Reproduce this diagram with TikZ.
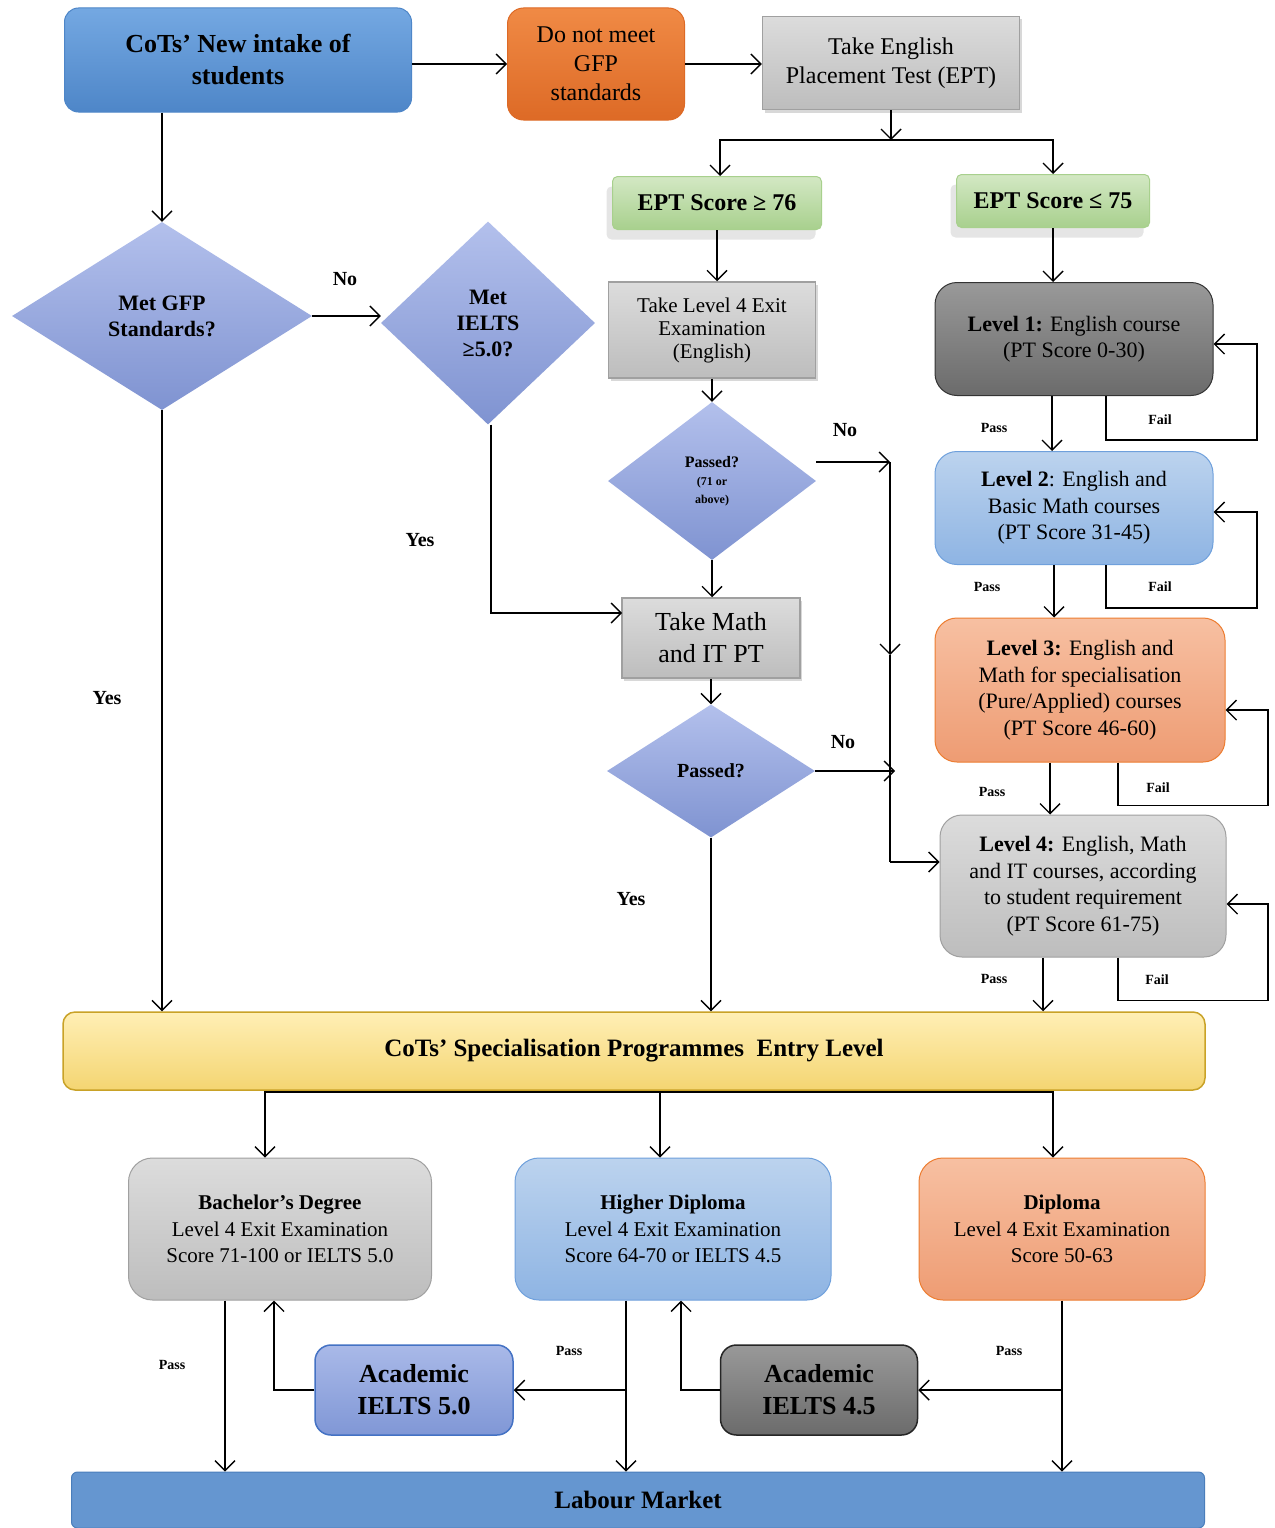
\documentclass[tikz,border=0pt]{standalone}
\usepackage{fontspec}
\setmainfont{Liberation Serif}
\usetikzlibrary{arrows.meta,shapes.geometric,shadows}

\definecolor{intaketop}{HTML}{74A8E2}
\definecolor{intakebot}{HTML}{4E86C8}
\definecolor{orangetop}{HTML}{F08A45}
\definecolor{orangebot}{HTML}{DD6A26}
\definecolor{graytop}{HTML}{DCDCDC}
\definecolor{graybot}{HTML}{BDBDBD}
\definecolor{grayline}{HTML}{A0A0A0}
\definecolor{greentop}{HTML}{D3E8C4}
\definecolor{greenbot}{HTML}{A8D08D}
\definecolor{diatop}{HTML}{B3C0EC}
\definecolor{diabot}{HTML}{7F93D1}
\definecolor{darktop}{HTML}{999999}
\definecolor{darkbot}{HTML}{6B6B6B}
\definecolor{ltbluetop}{HTML}{BCD3EE}
\definecolor{ltbluebot}{HTML}{8EB4E3}
\definecolor{ltblueline}{HTML}{6FA0DC}
\definecolor{salmontop}{HTML}{F7C0A2}
\definecolor{salmonbot}{HTML}{EE9C73}
\definecolor{salmonline}{HTML}{ED7D31}
\definecolor{yellowtop}{HTML}{FFEFB5}
\definecolor{yellowbot}{HTML}{F4D572}
\definecolor{yellowline}{HTML}{C9A227}
\definecolor{ieltstop}{HTML}{A9B9E8}
\definecolor{ieltsbot}{HTML}{8097D6}
\definecolor{ieltsline}{HTML}{4472C4}
\definecolor{labourblue}{HTML}{6596D0}
\definecolor{labourline}{HTML}{4A7EBB}

\newcommand\sizeBig{\fontsize{26}{32}\selectfont}
\newcommand\sizeMid{\fontsize{24}{29}\selectfont}
\newcommand\sizeExit{\fontsize{21}{23}\selectfont}
\newcommand\sizeLevel{\fontsize{22}{26.5}\selectfont}
\newcommand\sizeProg{\fontsize{21}{26.5}\selectfont}
\newcommand\sizeQuest{\fontsize{22}{26}\selectfont}
\newcommand\sizeTag{\fontsize{20}{24}\selectfont}
\newcommand\sizePass{\fontsize{16}{18}\selectfont}
\newcommand\sizeSmall{\fontsize{14}{16}\selectfont}
\newcommand\sizeTiny{\fontsize{12}{14}\selectfont}

\begin{document}
\begin{tikzpicture}[x=1pt, y=-1pt,
  every node/.style={inner sep=0pt, align=center},
  flow/.style={draw, rounded corners=#1, line width=1pt},
  flow/.default=18pt,
  plainbox/.style={draw=grayline, line width=1.5pt, top color=graytop, bottom color=graybot,
    drop shadow={shadow xshift=2pt, shadow yshift=-3pt, opacity=.3}},
  choice/.style={diamond, draw=none, top color=diatop, bottom color=diabot},
  tag/.style={font=\sizeTag\bfseries},
  small/.style={font=\sizeSmall\bfseries},
  link/.style={-{Straight Barb[length=10pt, width=20pt]}, line width=1.4pt},
  wire/.style={line width=1.4pt}]
\useasboundingbox (0,0) rectangle (1274,1528);
\fill[white] (0,0) rectangle (1274,1528);

\node[flow=14pt, draw=intakebot, top color=intaketop, bottom color=intakebot,
  minimum width=347, minimum height=104, font=\sizeBig\bfseries] (intake) at (238,60)
  {CoTs' New intake of\\students};
\node[flow=16pt, draw=orangebot, top color=orangetop, bottom color=orangebot,
  minimum width=177, minimum height=112, font=\sizeMid] (donot) at (596,64)
  {Do not meet\\GFP\\standards};
\node[plainbox, minimum width=257, minimum height=93, font=\sizeMid] (ept) at (891,63)
  {Take English\\Placement Test (EPT)};
\node[flow=5pt, draw=greenbot, top color=greentop, bottom color=greenbot,
  drop shadow={shadow xshift=-6pt, shadow yshift=-10pt, opacity=.2},
  minimum width=209, minimum height=53, font=\sizeMid\bfseries] (eptHi) at (717,203)
  {EPT Score ≥ 76};
\node[flow=5pt, draw=greenbot, top color=greentop, bottom color=greenbot,
  drop shadow={shadow xshift=-6pt, shadow yshift=-10pt, opacity=.2},
  minimum width=193, minimum height=53, font=\sizeMid\bfseries] (eptLo) at (1053,201)
  {EPT Score ≤ 75};

\node[choice, minimum width=300, minimum height=188, font=\sizeQuest\bfseries] (gfp) at (162,316)
  {Met GFP\\Standards?};
\node[choice, minimum width=214, minimum height=203, font=\sizeQuest\bfseries] (ielts) at (488,323)
  {Met\\IELTS\\≥5.0?};
\node[plainbox, minimum width=207, minimum height=96, font=\sizeExit] (exit) at (712,330)
  {Take Level 4 Exit\\Examination\\(English)};
\node[choice, minimum width=208, minimum height=158, font=\sizePass\bfseries] (pass1) at (712,481)
  {Passed?\\{\sizeTiny (71 or}\\{\sizeTiny above)}};
\node[plainbox, minimum width=178, minimum height=80, font=\sizeBig] (math) at (711,638)
  {Take Math\\and IT PT};
\node[choice, minimum width=208, minimum height=133, font=\sizeTag\bfseries] (pass2) at (711,771)
  {Passed?};

\node[flow=22pt, draw=black!80, top color=darktop, bottom color=darkbot,
  minimum width=278, minimum height=113, font=\sizeLevel] (lev1) at (1074,339)
  {\textbf{Level 1:} English course\\(PT Score 0-30)};
\node[flow=22pt, draw=ltblueline, top color=ltbluetop, bottom color=ltbluebot,
  minimum width=278, minimum height=113, font=\sizeLevel] (lev2) at (1074,508)
  {\textbf{Level 2}: English and\\Basic Math courses\\(PT Score 31-45)};
\node[flow=22pt, draw=salmonline, top color=salmontop, bottom color=salmonbot,
  minimum width=290, minimum height=144, font=\sizeLevel] (lev3) at (1080,690)
  {\textbf{Level 3:} English and\\Math for specialisation\\(Pure/Applied) courses\\(PT Score 46-60)};
\node[flow=22pt, draw=grayline, top color=graytop, bottom color=graybot,
  minimum width=286, minimum height=142, font=\sizeLevel] (lev4) at (1083,886)
  {\textbf{Level 4:} English, Math\\and IT courses, according\\to student requirement\\(PT Score 61-75)};

\node[flow=12pt, draw=yellowline, line width=1.5pt, top color=yellowtop, bottom color=yellowbot,
  minimum width=1142, minimum height=78, font=\fontsize{25}{30}\selectfont\bfseries] (spec) at (634,1051)
  {CoTs' Specialisation Programmes~~Entry Level};

\node[flow=24pt, draw=grayline, top color=graytop, bottom color=graybot,
  minimum width=303, minimum height=142, font=\sizeProg] (bach) at (280,1229)
  {\textbf{Bachelor's Degree}\\Level 4 Exit Examination\\Score 71-100 or IELTS 5.0};
\node[flow=24pt, draw=ltblueline, top color=ltbluetop, bottom color=ltbluebot,
  minimum width=316, minimum height=142, font=\sizeProg] (hdip) at (673,1229)
  {\textbf{Higher Diploma}\\Level 4 Exit Examination\\Score 64-70 or IELTS 4.5};
\node[flow=24pt, draw=salmonline, top color=salmontop, bottom color=salmonbot,
  minimum width=286, minimum height=142, font=\sizeProg] (dip) at (1062,1229)
  {\textbf{Diploma}\\Level 4 Exit Examination\\Score 50-63};
\node[flow=16pt, draw=ieltsline, line width=1.5pt, top color=ieltstop, bottom color=ieltsbot,
  minimum width=198, minimum height=90, font=\sizeBig\bfseries] (ac50) at (414,1390)
  {Academic\\IELTS 5.0};
\node[flow=16pt, draw=black!85, line width=1.5pt, top color=darktop, bottom color=darkbot,
  minimum width=197, minimum height=90, font=\sizeBig\bfseries] (ac45) at (819,1390)
  {Academic\\IELTS 4.5};
\node[flow=6pt, draw=labourline, fill=labourblue,
  minimum width=1133, minimum height=56, font=\fontsize{25}{30}\selectfont\bfseries] (labour) at (638,1500)
  {Labour Market};

\coordinate (split) at (889,140);
\coordinate (noBus) at (890,462);
\coordinate (busMid) at (890,655);
\coordinate (busEnd) at (890,862);
\coordinate (mathIn) at (622,613);
\coordinate (fork) at (660,1092);

\draw[link] (intake.east |- donot) -- (donot.west);
\draw[link] (donot.east) -- (donot.east -| ept.west);
\draw[link] (ept.south) -- (ept.south |- split);
\draw[link] (ept.south |- split) -| ([xshift=3pt]eptHi.north);
\draw[link] (ept.south |- split) -| (eptLo.north);
\draw[link] (eptHi.south) -- (eptHi.south |- exit.north);
\draw[link] (exit.south) -- (pass1.north);
\draw[link] (pass1.south) -- (pass1.south |- math.north);
\draw[link] (math.south) -- (pass2.north);
\draw[link] (pass2.south) -- (pass2.south |- spec.north);

\draw[link] (gfp.north |- intake.south) -- (gfp.north);
\draw[link] (gfp.east) -- (gfp.east -| ielts.west);
\draw[link] (gfp.south) -- (gfp.south |- spec.north);
\draw[link] ([xshift=3pt]ielts.south) |- (mathIn);

\draw[link] (pass1.east |- noBus) -- (noBus);
\draw[link] (noBus) -- (busMid);
\draw[wire] (busMid) -- (busEnd);
\draw[link] (busEnd) -- (busEnd -| lev4.west);
\draw[link] (pass2.east) -- ([xshift=5pt]pass2.east -| busEnd);

\draw[link] (eptLo.south) -- (eptLo.south |- lev1.north);
\draw[link] ([xshift=-22pt]lev1.south) -- ([xshift=-22pt]lev2.north);
\draw[link] ([xshift=-20pt]lev2.south) -- ([xshift=-26pt]lev3.north);
\draw[link] ([xshift=-30pt]lev3.south) -- ([xshift=-33pt]lev4.north);
\draw[link] ([xshift=-40pt]lev4.south) -- ([xshift=-40pt]lev4.south |- spec.north);
\draw[link] ([xshift=32pt]lev1.south) -- ++(0,44) -- ++(151,0) |- ([yshift=-5pt]lev1.east);
\draw[link] ([xshift=32pt]lev2.south) -- ++(0,43) -- ++(151,0) |- ([yshift=-4pt]lev2.east);
\draw[link] ([xshift=38pt]lev3.south) -- ++(0,43) -- ++(150,0) |- ([yshift=-20pt]lev3.east);
\draw[link] ([xshift=35pt]lev4.south) -- ++(0,43) -- ++(150,0) |- ([yshift=-18pt]lev4.east);

\draw[link] (spec.south -| fork) -- ([xshift=-13pt]hdip.north);
\draw[link] (fork) -| ([xshift=-15pt]bach.north);
\draw[link] (fork) -| ([xshift=-9pt]dip.north);
\draw[link] ([xshift=-55pt]bach.south) -- ([xshift=-55pt]bach.south |- labour.north);
\draw[link] ([xshift=-47pt]hdip.south) -- ([xshift=-47pt]hdip.south |- labour.north);
\draw[link] (dip.south) -- (dip.south |- labour.north);
\draw[link] ([xshift=-47pt]hdip.south |- ac50.east) -- (ac50.east);
\draw[link] (dip.south |- ac45.east) -- (ac45.east);
\draw[link] (ac50.west) -| ([xshift=-6pt]bach.south);
\draw[link] (ac45.west) -| ([xshift=8pt]hdip.south);

\node[tag] (no1) at (345,279) {No};
\node[tag] (no2) at (845,430) {No};
\node[tag] (no3) at (843,742) {No};
\node[tag] (yes1) at (420,540) {Yes};
\node[tag] (yes2) at (107,698) {Yes};
\node[tag] (yes3) at (631,899) {Yes};
\node[small] (pass11) at (994,428) {Pass};
\node[small] (pass12) at (987,587) {Pass};
\node[small] (pass13) at (992,792) {Pass};
\node[small] (pass14) at (994,979) {Pass};
\node[small] (fail1) at (1160,420) {Fail};
\node[small] (fail2) at (1160,587) {Fail};
\node[small] (fail3) at (1158,788) {Fail};
\node[small] (fail4) at (1157,980) {Fail};
\node[small] (pass21) at (172,1365) {Pass};
\node[small] (pass22) at (569,1351) {Pass};
\node[small] (pass23) at (1009,1351) {Pass};
\end{tikzpicture}
\end{document}
